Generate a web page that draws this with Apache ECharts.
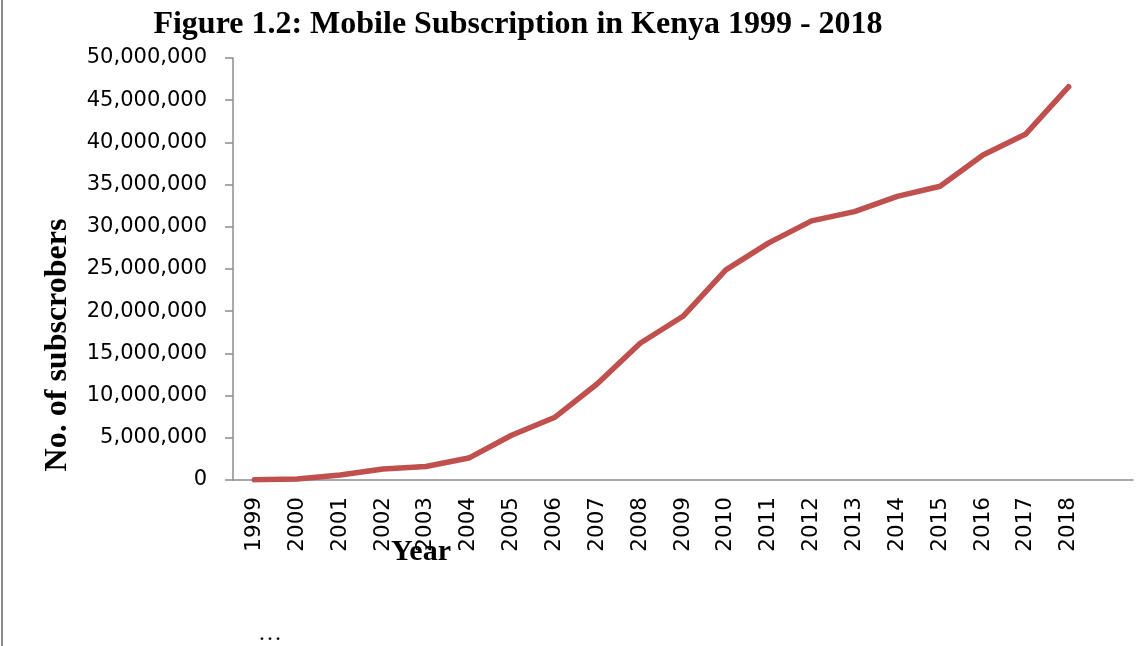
<!DOCTYPE html>
<html>
<head>
<meta charset="utf-8">
<script src="https://cdn.jsdelivr.net/npm/echarts@6/dist/echarts.min.js"></script>
<style>
html,body{margin:0;padding:0;background:#fff;}
#chart{width:1145px;height:646px;}
</style>
</head>
<body>
<div id="chart"></div>
<script>
const categories = ['1999','2000','2001','2002','2003','2004','2005','2006','2007','2008','2009','2010','2011','2012','2013','2014','2015','2016','2017','2018',''];
const subscribers = [15000,127000,600000,1300000,1600000,2600000,5300000,7400000,11400000,16200000,19400000,24900000,28100000,30700000,31800000,33600000,34800000,38500000,41000000,46600000,null];
const yTicks = {min:0, max:50000000, interval:5000000};

const chart = echarts.init(document.getElementById('chart'));
chart.setOption({
  animation:false,
  backgroundColor:'#fff',
  title:{
    text:'Figure 1.2: Mobile Subscription in Kenya 1999 - 2018',
    left:513, top:4, textAlign:'center',
    textStyle:{fontFamily:'Liberation Serif', fontWeight:'bold', fontSize:32, color:'#000'}
  },
  grid:{left:233, right:12, top:58, bottom:166, containLabel:false},
  xAxis:{
    type:'category',
    data:categories,
    boundaryGap:true,
    axisLine:{lineStyle:{color:'#8c8c8c', width:1.5}},
    axisTick:{show:false},
    axisLabel:{rotate:90, interval:0, margin:17, fontFamily:'DejaVu Sans', fontSize:21.5, color:'#000'},
    name:'Year',
    nameLocation:'middle',
    nameGap:57,
    nameMoveOverlap:false,
    nameTextStyle:{fontFamily:'Liberation Serif', fontWeight:'bold', fontSize:30, color:'#000', padding:[0,524,0,0]}
  },
  yAxis:{
    type:'value',
    min:yTicks.min, max:yTicks.max, interval:yTicks.interval,
    splitLine:{show:false},
    axisLine:{show:true, lineStyle:{color:'#8c8c8c', width:1.5}},
    axisTick:{show:true, inside:false, length:8, lineStyle:{color:'#8c8c8c', width:1.5}},
    axisLabel:{margin:26, fontFamily:'DejaVu Sans', fontSize:21, color:'#000',
      formatter:v=>v.toLocaleString('en-US')},
    name:'No. of subscrobers',
    nameLocation:'middle',
    nameGap:159,
    nameRotate:90,
    nameTextStyle:{fontFamily:'Liberation Serif', fontWeight:'bold', fontSize:32, color:'#000', padding:[0,0,0,-152]}
  },
  series:[{
    type:'line',
    data:subscribers,
    showSymbol:false,
    symbol:'none',
    lineStyle:{color:'#C0504D', width:5.5, cap:'round', join:'round'},
    itemStyle:{color:'#C0504D'}
  }],
  graphic:[
    {type:'line', shape:{x1:2, y1:0, x2:2, y2:646}, style:{stroke:'#8c8c8c', lineWidth:2}},
    {type:'text', left:258, top:622, style:{text:'…', fontFamily:'Liberation Serif', fontSize:24, fill:'#000'}}
  ]
});
</script>
</body>
</html>
